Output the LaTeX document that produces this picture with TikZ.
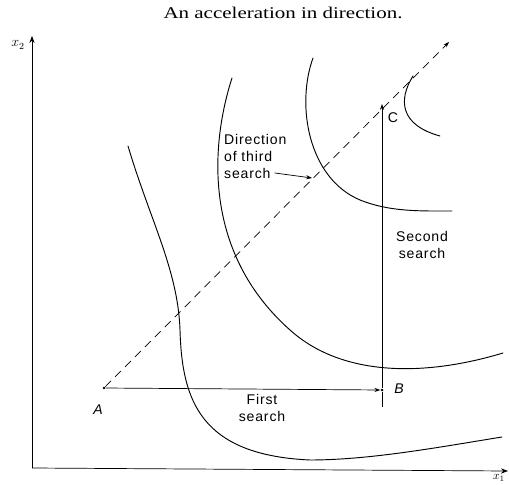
\documentclass[tikz,border=0pt]{standalone}
\usepackage{fontspec}
\setmainfont{Liberation Serif}
\newfontfamily\lettering[LetterSpace=6]{Liberation Sans}
\usetikzlibrary{arrows.meta}

\begin{document}
\begin{tikzpicture}[x=0.03cm, y=-0.03cm, every node/.style={font=\lettering\large}]
  \tikzset{
    contour/.style={thick, line cap=round},
    search/.style={semithick, -{Stealth[length=5pt,width=3.5pt]}},
    pt/.style={circle, fill, inner sep=0.9pt}
  }
  \useasboundingbox (0,0) rectangle (509,485);

  % Title
  \node[font=\rmfamily\fontsize{14}{16}\selectfont] (title) at (283,13) {\scalebox{1.28}[1]{An acceleration in direction.}};

  % Axes
  \coordinate (O) at (32,468);
  \coordinate (x1end) at (508,471);
  \coordinate (x2end) at (32,36);
  \draw[semithick, -{Stealth[length=6pt]}] (O) -- (x2end);
  \draw[semithick, -{Stealth[length=6pt]}] (O) -- (x1end);
  \node[font=\large] (x2lab) at (18,45) {$x_2$};
  \node[font=\normalsize, inner sep=1pt] (x1lab) at (499,478) {$x_1$};

  % Contours
  \draw[contour] (128,146) .. controls (150,220) and (178,270) .. (180,330)
    .. controls (182,400) and (200,455) .. (310,460)
    .. controls (370,460) and (440,447) .. (502,437);
  \draw[contour] (232,78) .. controls (212,140) and (200,250) .. (290,330)
    .. controls (340,375) and (420,378) .. (503,353);
  \draw[contour] (313,58) .. controls (296,105) and (308,178) .. (360,200)
    .. controls (390,212) and (420,211) .. (452,211);
  \draw[contour] (413,76) .. controls (398,100) and (400,125) .. (440,136);

  % Points
  \node[pt] (A) at (104,388) {};
  \node[pt] (B) at (382,390) {};
  \coordinate (C) at (382,104);
  \coordinate (Bfoot) at (382,407);
  \coordinate (D) at (449,42);
  \node[font=\lettering\large\itshape] (Alab) at (98,410) {A};
  \node[font=\lettering\large\itshape] (Blab) at (399,389) {B};
  \node (Clab) at (393,118) {C};

  % Searches
  \draw[search] (A) -- (B);
  \draw[semithick] (Bfoot) -- (B);
  \draw[search] (B) -- (C);
  \draw[search, dashed, dash pattern=on 7pt off 5pt] (A) -- (D);

  \node[align=center] (first) at (262,408) {First\\search};
  \node[align=center] (second) at (422,245) {Second\\search};
  \node[anchor=base west] (third1) at (220,145) {Direction};
  \node[anchor=base west] (third2) at (220,162) {of third};
  \node[anchor=base west] (third3) at (220,178) {search};
  \coordinate (thirdtip) at (312,178);
  \draw[search] (third3.east) -- (thirdtip);
\end{tikzpicture}
\end{document}
